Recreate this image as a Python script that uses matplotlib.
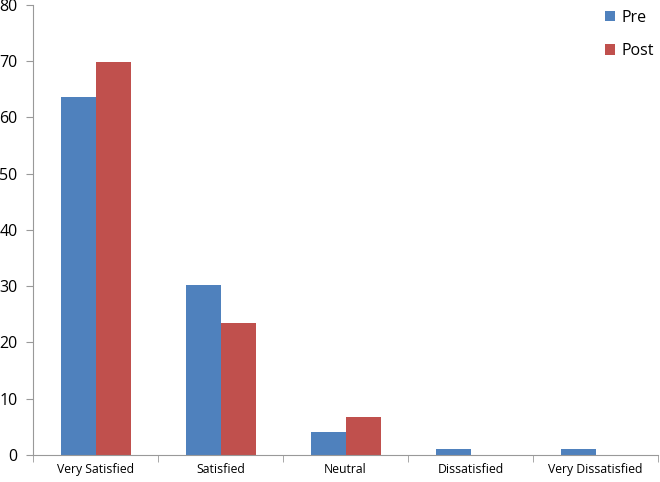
import numpy as np
import matplotlib.pyplot as plt

categories = ['Very Satisfied', 'Satisfied', 'Neutral', 'Dissatisfied', 'Very Dissatisfied']
pre = [63.6, 30.2, 4.1, 1.1, 1.1]
post = [69.8, 23.4, 6.8, 0, 0]

plt.rcParams['font.family'] = ['Open Sans', 'DejaVu Sans']

fig = plt.figure(figsize=(6.6, 4.82), dpi=100)
ax = fig.add_axes([0.05, 0.056, 0.947, 0.934])

x = np.arange(len(categories))
w = 0.28
ax.bar(x - w/2, pre, w, color='#4F81BD', label='Pre')
ax.bar(x + w/2, post, w, color='#C0504D', label='Post')

ax.set_xlim(-0.5, len(categories) - 0.5)
ax.set_ylim(0, 80)
ax.set_yticks(np.arange(0, 81, 10))
ax.set_xticks(x)
ax.set_xticklabels(categories, fontsize=8.8)
ax.set_xticks(np.arange(-0.5, len(categories), 1), minor=True)
ax.tick_params(axis='x', which='major', length=0, pad=6)
ax.tick_params(axis='x', which='minor', length=5, color='#999999', direction='out')
ax.tick_params(axis='y', length=5, color='#999999', labelsize=11.5, pad=6)

for s in ['top', 'right']:
    ax.spines[s].set_visible(False)
for s in ['left', 'bottom']:
    ax.spines[s].set_color('#999999')

fig.legend(loc='upper left', bbox_to_anchor=(0.895, 1.01), frameon=False,
           fontsize=11.5, handlelength=0.6, handleheight=0.6,
           handletextpad=0.4, labelspacing=1.1)

plt.savefig('out.png')
